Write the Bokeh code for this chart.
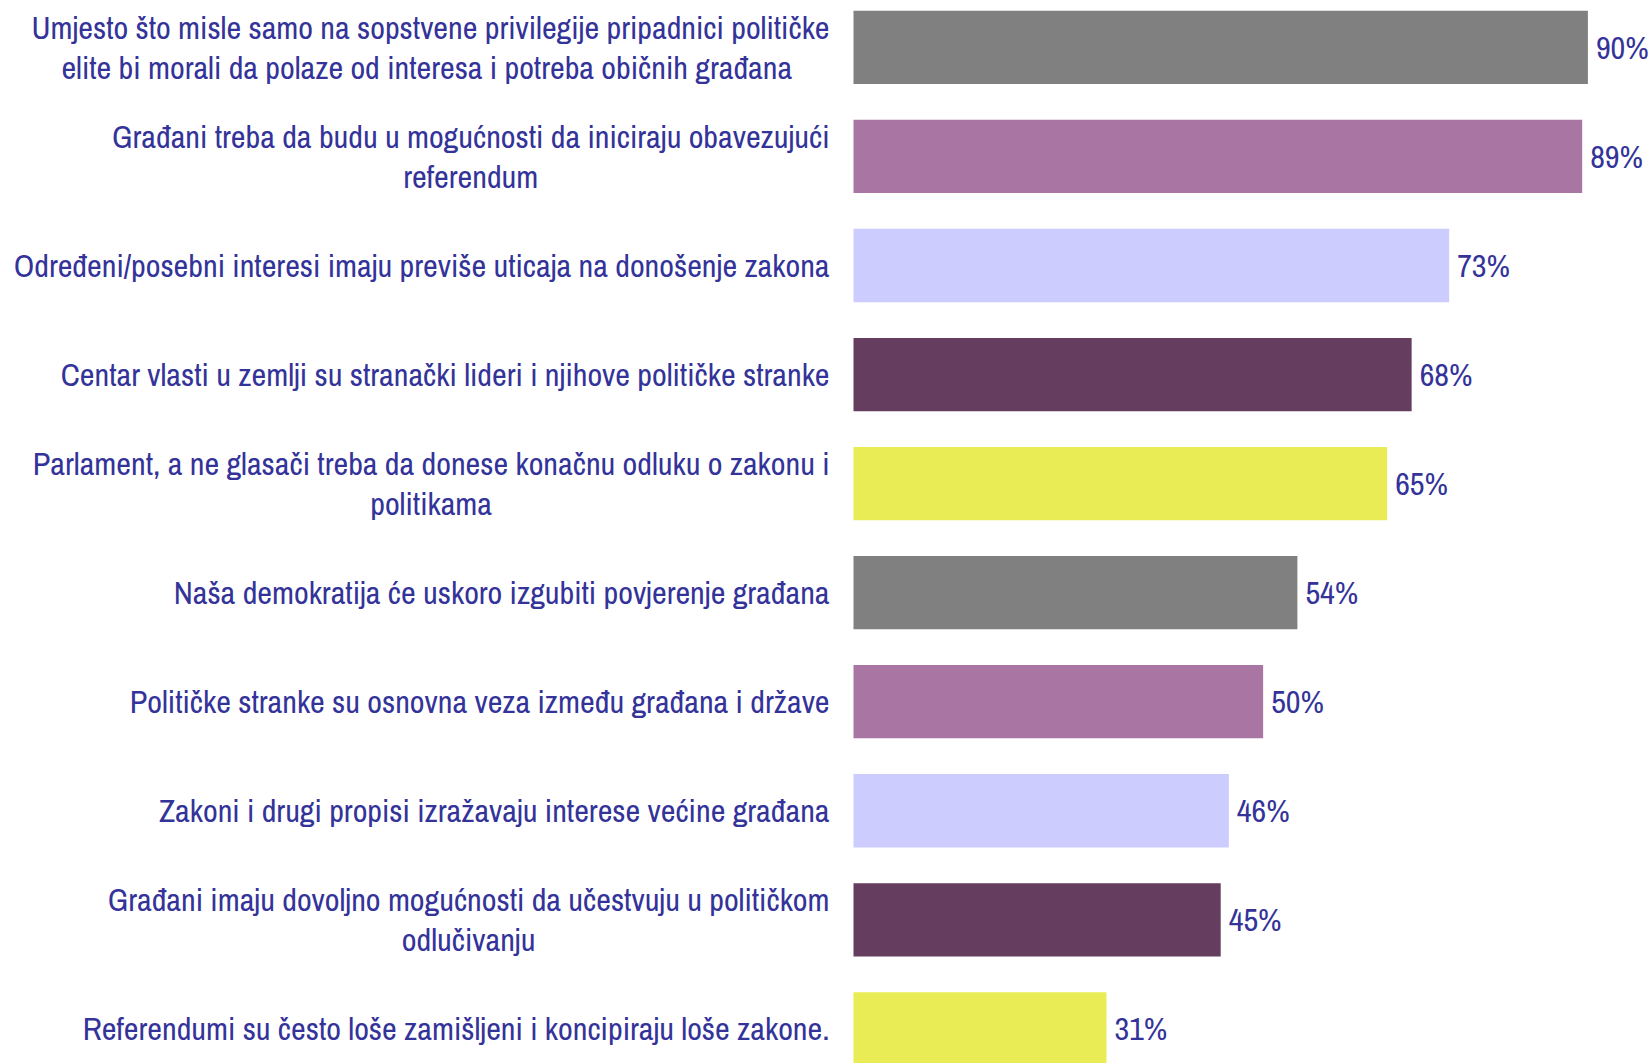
import glob
from PIL import ImageFont
from bokeh.plotting import figure
from bokeh.models import Range1d, ColumnDataSource
from bokeh.core.properties import value
from bokeh.embed import file_html
from bokeh.resources import INLINE

labels = [
    "Umjesto što misle samo na sopstvene privilegije pripadnici političke\nelite bi morali  da polaze od interesa i potreba običnih građana",
    "Građani treba da budu u mogućnosti da iniciraju obavezujući\nreferendum",
    "Određeni/posebni interesi imaju previše uticaja na donošenje zakona",
    "Centar vlasti u zemlji su stranački lideri i njihove političke stranke",
    "Parlament, a ne glasači treba da donese konačnu odluku o zakonu i\npolitikama",
    "Naša demokratija će uskoro izgubiti povjerenje građana",
    "Političke stranke su osnovna veza između građana i države",
    "Zakoni i drugi propisi izražavaju interese većine građana",
    "Građani imaju dovoljno mogućnosti da učestvuju u političkom\nodlučivanju",
    "Referendumi su često loše zamišljeni i koncipiraju loše zakone.",
]
values = [90, 89.3, 73, 68.4, 65.4, 54.4, 50.2, 46, 45, 31]
pct_labels = ["90%", "89%", "73%", "68%", "65%", "54%", "50%", "46%", "45%", "31%"]
colors = ["#808080", "#A976A4", "#CCCCFF", "#643D5F", "#E9EC55",
          "#808080", "#A976A4", "#CCCCFF", "#643D5F", "#E9EC55"]

TEXT_COLOR = "#333399"

cand = sorted(glob.glob("/usr/share/fonts/**/ArchivoNarrow[[]wght[]].ttf", recursive=True))
if cand:
    FONT, FONT_FILE = "Archivo Narrow", cand[0]
else:
    FONT = "Liberation Sans"
    FONT_FILE = (glob.glob("/usr/share/fonts/**/LiberationSans-Regular.ttf", recursive=True) or [None])[0]

ref_line = labels[2]
if FONT_FILE:
    f100 = ImageFont.truetype(FONT_FILE, 100)
    FS = round(816 / (f100.getlength(ref_line) / 100), 1)
    fnt = ImageFont.truetype(FONT_FILE, FS)
    measure = fnt.getlength
else:
    FS = 25
    measure = lambda s: len(s) * FS * 0.5
FSS = f"{FS}px"

idx = list(range(len(values)))
src = ColumnDataSource(dict(y=idx, v=values, c=colors, t=pct_labels))

p = figure(width=1652, height=1063, output_backend="svg", toolbar_location=None,
           x_range=Range1d(-853 / 8.16, (1652 - 853) / 8.16),
           y_range=Range1d(9.3177, -0.4301),
           min_border=0, outline_line_color=None)
p.axis.visible = False
p.grid.visible = False

p.hbar(y="y", left=0, right="v", height=0.672, fill_color="c", line_color=None, source=src)
p.text(x="v", y="y", text="t", source=src, x_offset=8, text_align="left",
       text_baseline="middle", text_font=value(FONT), text_font_size=FSS,
       text_color=TEXT_COLOR)

for i, lab in enumerate(labels):
    lines = lab.split("\n")
    if len(lines) == 1:
        p.text(x=[0], y=[i], text=[lines[0]], x_offset=-24, text_align="right",
               text_baseline="middle", text_font=value(FONT), text_font_size=FSS,
               text_color=TEXT_COLOR)
    else:
        w1 = measure(lines[0])
        p.text(x=[0], y=[i], text=[lines[0]], x_offset=-24, y_offset=-20,
               text_align="right", text_baseline="middle", text_font=value(FONT),
               text_font_size=FSS, text_color=TEXT_COLOR)
        p.text(x=[0], y=[i], text=[lines[1]], x_offset=-24 - w1 / 2, y_offset=20,
               text_align="center", text_baseline="middle", text_font=value(FONT),
               text_font_size=FSS, text_color=TEXT_COLOR)

open("out.html", "w").write(file_html(p, INLINE))
